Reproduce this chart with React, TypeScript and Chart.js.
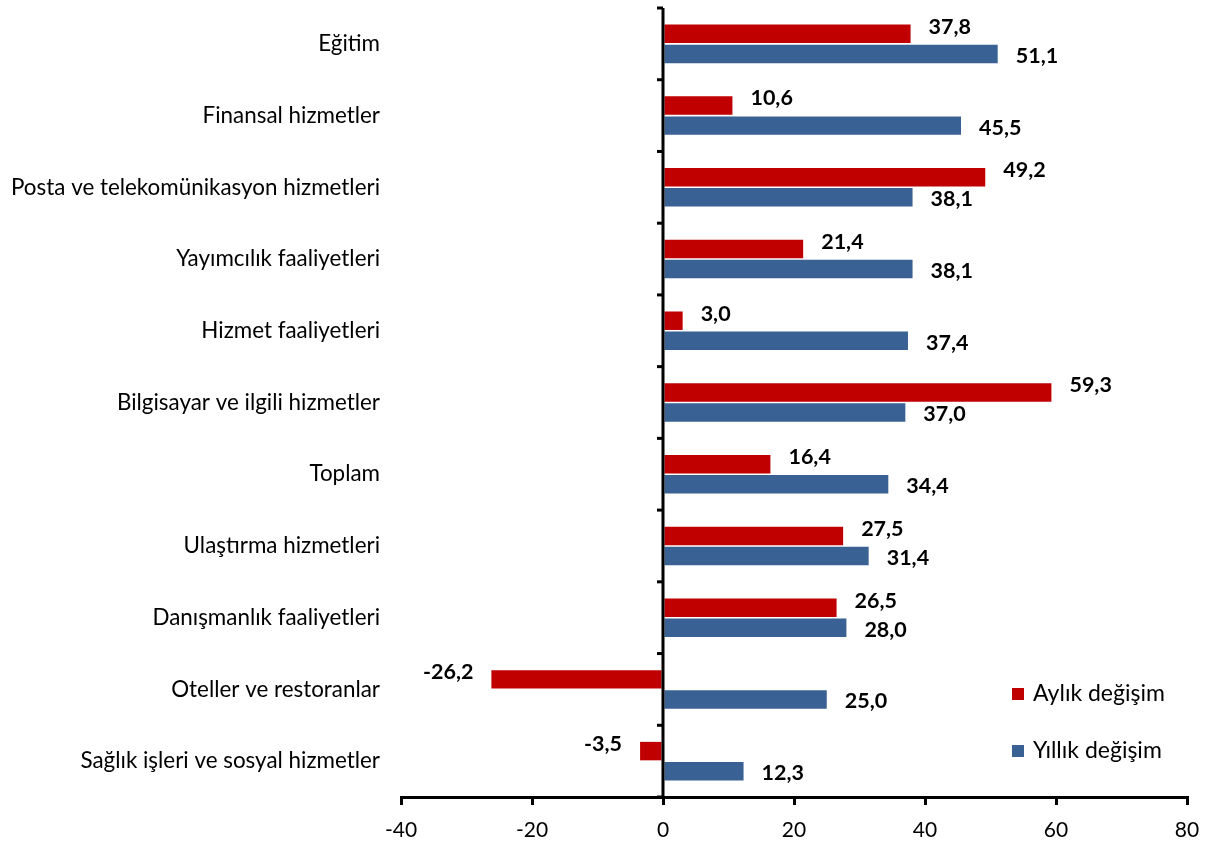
import React, { useEffect, useRef } from "react";
import { Chart, registerables } from "chart.js";

Chart.register(...registerables);

const categories = [
  "Eğitim",
  "Finansal hizmetler",
  "Posta ve telekomünikasyon hizmetleri",
  "Yayımcılık faaliyetleri",
  "Hizmet faaliyetleri",
  "Bilgisayar ve ilgili hizmetler",
  "Toplam",
  "Ulaştırma hizmetleri",
  "Danışmanlık faaliyetleri",
  "Oteller ve restoranlar",
  "Sağlık işleri ve sosyal hizmetler",
];
const monthly = [37.8, 10.6, 49.2, 21.4, 3.0, 59.3, 16.4, 27.5, 26.5, -26.2, -3.5];
const yearly = [51.1, 45.5, 38.1, 38.1, 37.4, 37.0, 34.4, 31.4, 28.0, 25.0, 12.3];
const seriesNames = ["Aylık değişim", "Yıllık değişim"];
const seriesColors = ["#C00000", "#3A6194"];
const xMin = -40;
const xMax = 80;
const xStep = 20;

const FONT = "Lato, 'Noto Sans', sans-serif";

const fmt = (v: number) => v.toFixed(1).replace(".", ",");

const zeroAxisPlugin = {
  id: "zeroAxis",
  afterDatasetsDraw(chart: any) {
    const { ctx, chartArea, scales } = chart;
    const x0 = scales.x.getPixelForValue(0);
    const y = scales.y;
    ctx.save();
    ctx.strokeStyle = "#000";
    ctx.lineWidth = 3;
    ctx.beginPath();
    ctx.moveTo(x0, chartArea.top);
    ctx.lineTo(x0, chartArea.bottom);
    ctx.stroke();
    const n = categories.length;
    for (let i = 0; i <= n; i++) {
      const py = y.getPixelForValue(i - 0.5);
      ctx.beginPath();
      ctx.moveTo(x0 - 6, py);
      ctx.lineTo(x0, py);
      ctx.stroke();
    }
    ctx.restore();
  },
};

const dataLabelPlugin = {
  id: "dataLabels",
  afterDatasetsDraw(chart: any) {
    const { ctx } = chart;
    ctx.save();
    ctx.fillStyle = "#000";
    ctx.font = `bold 21.5px ${FONT}`;
    ctx.textBaseline = "middle";
    chart.data.datasets.forEach((ds: any, di: number) => {
      const meta = chart.getDatasetMeta(di);
      const dy = di === 0 ? -7 : 2;
      meta.data.forEach((bar: any, i: number) => {
        const v = ds.data[i];
        if (v >= 0) {
          ctx.textAlign = "left";
          ctx.fillText(fmt(v), bar.x + 18, bar.y + dy);
        } else {
          ctx.textAlign = "right";
          ctx.fillText(fmt(v), bar.x - 18, bar.y + dy);
        }
      });
    });
    ctx.restore();
  },
};

const legendPlugin = {
  id: "innerLegend",
  afterDraw(chart: any) {
    const { ctx, chartArea } = chart;
    const left = chartArea.right - 175;
    const rows = [chartArea.bottom - 103, chartArea.bottom - 46];
    ctx.save();
    ctx.font = `23px ${FONT}`;
    ctx.textBaseline = "middle";
    ctx.textAlign = "left";
    chart.data.datasets.forEach((ds: any, i: number) => {
      const cy = rows[i];
      ctx.fillStyle = ds.backgroundColor;
      ctx.fillRect(left, cy - 6, 12, 12);
      ctx.fillStyle = "#000";
      ctx.fillText(ds.label, left + 21, cy);
    });
    ctx.restore();
  },
};

export default function App() {
  const ref = useRef<HTMLCanvasElement>(null);
  useEffect(() => {
    if (!ref.current) return;
    const chart = new Chart(ref.current, {
      type: "bar",
      data: {
        labels: categories,
        datasets: [
          {
            label: seriesNames[0],
            data: monthly,
            backgroundColor: seriesColors[0],
            categoryPercentage: 0.56,
            barPercentage: 0.92,
          },
          {
            label: seriesNames[1],
            data: yearly,
            backgroundColor: seriesColors[1],
            categoryPercentage: 0.56,
            barPercentage: 0.92,
          },
        ],
      },
      options: {
        indexAxis: "y",
        responsive: false,
        animation: false,
        layout: { padding: { top: 8, right: 21, left: 0, bottom: 0 } },
        plugins: {
          legend: { display: false },
          tooltip: { enabled: false },
        },
        scales: {
          x: {
            min: xMin,
            max: xMax,
            ticks: {
              stepSize: xStep,
              color: "#000",
              font: { family: FONT, size: 21 },
              padding: 13,
            },
            grid: {
              drawOnChartArea: false,
              drawTicks: true,
              tickLength: 8,
              color: "#000",
              lineWidth: 3,
            },
            border: { display: true, color: "#000", width: 3 },
            afterFit: (s: any) => {
              s.height = 46;
              s.paddingLeft = 0;
              s.paddingRight = 0;
            },
          },
          y: {
            ticks: {
              color: "#000",
              font: { family: FONT, size: 22.4 },
              padding: 21,
              autoSkip: false,
            },
            grid: { display: false, drawTicks: false },
            border: { display: false },
            afterFit: (s: any) => {
              s.width = 401;
              s.paddingTop = 0;
              s.paddingBottom = 0;
            },
          },
        },
      },
      plugins: [zeroAxisPlugin, dataLabelPlugin, legendPlugin],
    });
    return () => chart.destroy();
  }, []);
  return (
    <div style={{ position: "fixed", left: 0, top: 0, width: 1208, height: 843, background: "#fff" }}>
      <canvas ref={ref} width={1208} height={843} style={{ width: 1208, height: 843 }} />
    </div>
  );
}
